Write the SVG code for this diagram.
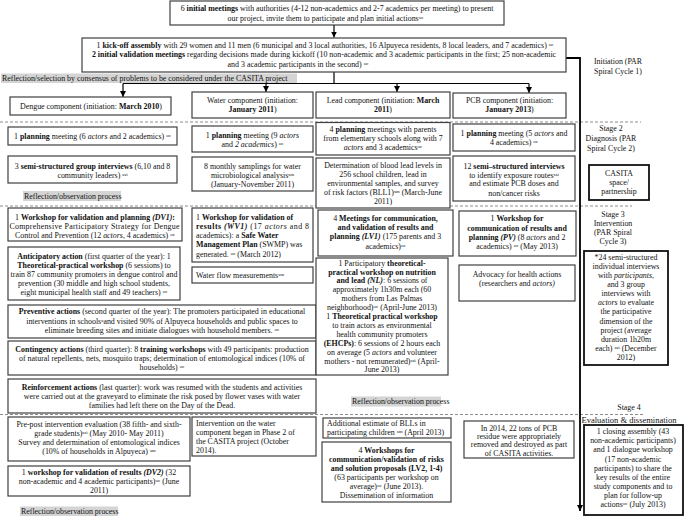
<svg xmlns="http://www.w3.org/2000/svg" width="685" height="516" viewBox="0 0 685 516">
<defs>
<marker id="ah" viewBox="0 0 10 10" refX="10" refY="5" markerWidth="6" markerHeight="6" orient="auto" markerUnits="userSpaceOnUse"><path d="M0,0 L10,5 L0,10 z" fill="#000"/></marker>
</defs>
<style>
text{font-family:"Liberation Serif","Times New Roman",serif;font-size:7.9px;fill:#111}
.m{text-anchor:middle}
.b{font-weight:bold}
.i{font-style:italic}
.s{font-size:5px;baseline-shift:super}
rect.bx{fill:#fff;stroke:#404040;stroke-width:1.2}
rect.tk{fill:#fff;stroke:#111;stroke-width:1.8}
rect.hl{fill:#d4d4d4}
.dl{stroke:#8c8c8c;stroke-width:1;stroke-dasharray:3 2;fill:none}
.cn{stroke:#000;stroke-width:1.2;fill:none}
.cv{stroke:#000;stroke-width:1.8;fill:none}
</style>
<rect width="685" height="516" fill="#fff"/>

<g id="stage-lines">
<line class="dl" x1="0" y1="122" x2="641" y2="122"/>
<line class="dl" x1="0" y1="206" x2="632" y2="206"/>
<line class="dl" x1="0" y1="414.5" x2="643" y2="414.5"/>
</g>

<g id="connectors">
<line class="cn" x1="334" y1="25" x2="334" y2="37.5" marker-end="url(#ah)"/>
<line class="cn" x1="334" y1="72" x2="334" y2="83.5"/>
<line class="cn" x1="123" y1="83.5" x2="529" y2="83.5"/>
<line class="cn" x1="123" y1="83.5" x2="123" y2="97" marker-end="url(#ah)"/>
<line class="cn" x1="266" y1="83.5" x2="266" y2="92" marker-end="url(#ah)"/>
<line class="cn" x1="397" y1="83.5" x2="397" y2="92" marker-end="url(#ah)"/>
<line class="cn" x1="529" y1="83.5" x2="529" y2="93" marker-end="url(#ah)"/>
<polyline class="cv" points="566,58 580,58 580,511" marker-end="url(#ah)"/>
</g>

<g id="n-initial">
<rect class="bx" x="170" y="1" width="334" height="24"/>
<text class="m" x="337" y="11">6 <tspan class="b">initial meetings</tspan> with authorities (4-12 non-academics and 2-7 academics per meeting) to present</text>
<text class="m" x="325.5" y="20.5">our project, invite them to participate and plan initial actions<tspan class="s">oc</tspan></text>
</g>

<g id="n-kickoff">
<rect class="bx" x="82" y="38" width="484" height="34"/>
<text class="m" x="325" y="47.5">1 <tspan class="b">kick-off assembly</tspan> with 29 women and 11 men (6 municipal and 3 local authorities, 16 Alpuyeca residents, 8 local leaders, and 7 academics) <tspan class="s">oc</tspan></text>
<text class="m" x="324" y="57"><tspan class="b">2 initial validation meetings</tspan> regarding decisions made during kickoff (10 non-academic and 3 academic participants in the first; 25 non-academic</text>
<text class="m" x="298" y="66.5">and 3 academic participants in the second) <tspan class="s">oc</tspan></text>
</g>

<g id="n-reflection-selection">
<rect class="hl" x="1" y="73.5" width="296" height="9.5"/>
<text x="2" y="81">Reflection/selection by consensus of problems to be considered under the CASITA project</text>
</g>

<g id="stage-labels">
<text class="m" x="618" y="64">Initiation (PAR</text>
<text class="m" x="618" y="74">Spiral Cycle 1)</text>
<text class="m" x="611" y="131">Stage 2</text>
<text class="m" x="611" y="141">Diagnosis (PAR</text>
<text class="m" x="611" y="150.5">Spiral Cycle 2)</text>
<text class="m" x="613" y="216.5">Stage 3</text>
<text class="m" x="613" y="225.5">Intervention</text>
<text class="m" x="613" y="234.5">(PAR Spiral</text>
<text class="m" x="613" y="243.5">Cycle 3)</text>
<text class="m" x="629" y="410">Stage 4</text>
<text class="m" x="629" y="422.5" style="font-size:8.5px">Evaluation &amp; dissemination</text>
</g>

<g id="n-casita">
<rect class="tk" x="589" y="165" width="60" height="35"/>
<text class="m" x="619" y="175.5">CASITA</text>
<text class="m" x="619" y="184.5">space/</text>
<text class="m" x="619" y="193.5">partnership</text>
</g>

<g id="n-dengue">
<rect class="bx" x="10" y="97" width="161" height="18"/>
<text class="m" x="91" y="108.5">Dengue component (initiation: <tspan class="b">March 2010</tspan>)</text>
</g>
<g id="n-water">
<rect class="bx" x="192" y="92" width="121" height="26"/>
<text class="m" x="252.5" y="102.5">Water component (initiation:</text>
<text class="m" x="252.5" y="111.5"><tspan class="b">January 2011</tspan>)</text>
</g>
<g id="n-lead">
<rect class="bx" x="316" y="92" width="134" height="26"/>
<text class="m" x="383" y="102.5">Lead component (initiation: <tspan class="b">March</tspan></text>
<text class="m" x="383" y="111.5"><tspan class="b">2011</tspan>)</text>
</g>
<g id="n-pcb">
<rect class="bx" x="453" y="93" width="113" height="25"/>
<text class="m" x="509.5" y="102.5">PCB component (initiation:</text>
<text class="m" x="509.5" y="111.5"><tspan class="b">January 2013</tspan>)</text>
</g>

<g id="n-d-plan">
<rect class="bx" x="8" y="127" width="169" height="18"/>
<text class="m" x="92.5" y="138.5">1 <tspan class="b">planning</tspan> meeting (6 <tspan class="i">actors</tspan> and 2 academics) <tspan class="s">oc</tspan></text>
</g>
<g id="n-d-interviews">
<rect class="bx" x="8" y="156" width="169" height="27"/>
<text class="m" x="92.5" y="168.5">3 <tspan class="b">semi-structured group interviews</tspan> (6,10 and 8</text>
<text class="m" x="92.5" y="177.5">community leaders) <tspan class="s">ssi</tspan></text>
</g>
<g id="n-d-refl1">
<rect class="hl" x="23" y="191" width="98" height="10"/>
<text x="24" y="198.8">Reflection/observation process</text>
</g>

<g id="n-w-plan">
<rect class="bx" x="192" y="126" width="121" height="26"/>
<text class="m" x="252.5" y="138">1 <tspan class="b">planning</tspan> meeting (9 <tspan class="i">actors</tspan></text>
<text class="m" x="252.5" y="147">and <tspan class="i">2 academics</tspan>) <tspan class="s">oc</tspan></text>
</g>
<g id="n-w-samplings">
<rect class="bx" x="192" y="157" width="121" height="34"/>
<text class="m" x="252.5" y="169">8 monthly samplings for water</text>
<text class="m" x="252.5" y="177.5">microbiological analysis<tspan class="s">sm</tspan></text>
<text class="m" x="252.5" y="187">(January-November 2011)</text>
</g>

<g id="n-l-plan">
<rect class="bx" x="316" y="122.5" width="134" height="32.5"/>
<text class="m" x="383" y="132">4 <tspan class="b">planning</tspan> meetings with parents</text>
<text class="m" x="383" y="140.5">from elementary schools along with 7</text>
<text class="m" x="383" y="149.5"><tspan class="i">actors</tspan> and 3 academics<tspan class="s">oc</tspan></text>
</g>
<g id="n-l-bll1">
<rect class="bx" x="316" y="158" width="134" height="50"/>
<text class="m" x="383" y="167.5">Determination of blood lead levels in</text>
<text class="m" x="383" y="176.5">256 school children, lead in</text>
<text class="m" x="383" y="185.5">environmental samples, and survey</text>
<text class="m" x="383" y="195">of risk factors (BLL1)<tspan class="s">sm</tspan> (March-June</text>
<text class="m" x="383" y="204">2011)</text>
</g>

<g id="n-p-plan">
<rect class="bx" x="453" y="124" width="122" height="27"/>
<text class="m" x="514" y="135.5">1 <tspan class="b">planning</tspan> meeting (5 <tspan class="i">actors</tspan> and</text>
<text class="m" x="514" y="144.5">4 academics) <tspan class="s">oc</tspan></text>
</g>
<g id="n-p-interviews">
<rect class="bx" x="453" y="156" width="122" height="45"/>
<text class="m" x="514" y="168.5">12 <tspan class="b">semi–structured interviews</tspan></text>
<text class="m" x="514" y="177.5">to identify exposure routes<tspan class="s">ssi</tspan></text>
<text class="m" x="514" y="186">and estimate PCB doses and</text>
<text class="m" x="514" y="195.5">non/cancer risks</text>
</g>

<g id="n-d-dv1">
<rect class="bx" x="8" y="208" width="174" height="33"/>
<text class="m" x="95" y="219.5">1 <tspan class="b">Workshop for validation and planning <tspan class="i">(DV1)</tspan>:</tspan></text>
<text class="m" x="94.5" y="229" textLength="170" lengthAdjust="spacing">Comprehensive Participatory Strategy for Dengue</text>
<text class="m" x="95" y="238">Control and Prevention (12 <tspan class="i">actors</tspan>, 4 academics) <tspan class="s">oc</tspan></text>
</g>
<g id="n-d-anticipatory">
<rect class="bx" x="8" y="247" width="172" height="53"/>
<text class="m" x="94" y="259"><tspan class="b">Anticipatory action</tspan> (first quarter of the year): 1</text>
<text class="m" x="94" y="268"><tspan class="b">Theoretical-practical workshop</tspan> (6 sessions) to</text>
<text class="m" x="94" y="277">train 87 community promoters in dengue control and</text>
<text class="m" x="94" y="286">prevention (30 middle and high school students,</text>
<text class="m" x="94" y="295">eight municipal health staff and 49 teachers) <tspan class="s">oc</tspan></text>
</g>
<g id="n-d-preventive">
<rect class="bx" x="8" y="305" width="308" height="33"/>
<text class="m" x="162" y="314"><tspan class="b">Preventive actions</tspan> (second quarter of the year): The promoters participated in educational</text>
<text class="m" x="162" y="323.5">interventions in schools<tspan class="s">a</tspan>and visited 90% of Alpuyeca households and public spaces to</text>
<text class="m" x="162" y="332.5">eliminate breeding sites and initiate dialogues with household members. <tspan class="s">oc</tspan></text>
</g>
<g id="n-d-contingency">
<rect class="bx" x="8" y="341" width="308" height="34"/>
<text class="m" x="162" y="351.5"><tspan class="b">Contingency actions</tspan> (third quarter): 8 <tspan class="b">training workshops</tspan> with 49 participants: production</text>
<text class="m" x="162" y="360.5">of natural repellents, nets, mosquito traps; determination of entomological indices (10% of</text>
<text class="m" x="162" y="369.5">households) <tspan class="s">oc</tspan></text>
</g>
<g id="n-d-reinforcement">
<rect class="bx" x="8" y="379" width="308" height="34"/>
<text class="m" x="162" y="389.5"><tspan class="b">Reinforcement actions</tspan> (last quarter): work was resumed with the students and activities</text>
<text class="m" x="162" y="398.5">were carried out at the graveyard to eliminate the risk posed by flower vases with water</text>
<text class="m" x="162" y="407.5">families had left there on the Day of the Dead.</text>
</g>

<g id="n-w-wv1">
<rect class="bx" x="192" y="208" width="121" height="54"/>
<text x="196" y="220">1 <tspan class="b">Workshop for validation of</tspan></text>
<text x="196" y="229" textLength="113" lengthAdjust="spacing"><tspan class="b">results <tspan class="i">(WV1)</tspan></tspan> (17 <tspan class="i">actors</tspan> and 8</text>
<text x="196" y="238">academics): a <tspan class="b">Safe Water</tspan></text>
<text x="196" y="247"><tspan class="b">Management Plan</tspan> (SWMP) was</text>
<text x="196" y="256.5">generated. <tspan class="s">oc</tspan> (March 2012)</text>
</g>
<g id="n-w-flow">
<rect class="bx" x="192" y="267" width="121" height="16"/>
<text x="196" y="277.5">Water flow measurements<tspan class="s">sm</tspan></text>
</g>

<g id="n-l-lv1">
<rect class="bx" x="318" y="210" width="135" height="46"/>
<text class="m" x="385.5" y="220.5">4 <tspan class="b">Meetings for communication,</tspan></text>
<text class="m" x="385.5" y="230"><tspan class="b">and validation of results and</tspan></text>
<text class="m" x="385.5" y="239"><tspan class="b">planning <tspan class="i">(LV1)</tspan></tspan> (175 parents and 3</text>
<text class="m" x="385.5" y="248.5">academics)<tspan class="s">oc</tspan></text>
</g>
<g id="n-l-nl">
<rect class="bx" x="316" y="258" width="132" height="117"/>
<text class="m" x="382" y="265.6">1 Participatory <tspan class="b">theoretical-</tspan></text>
<text class="m" x="382" y="274.5"><tspan class="b">practical workshop on nutrition</tspan></text>
<text class="m" x="382" y="283.4"><tspan class="b">and lead <tspan class="i">(NL)</tspan></tspan>: 6 sessions of</text>
<text class="m" x="382" y="292.3">approximately 1h30m each (60</text>
<text class="m" x="382" y="301.2">mothers from Las Palmas</text>
<text class="m" x="382" y="310.1">neighborhood)<tspan class="s">oc</tspan> (April-June 2013)</text>
<text class="m" x="382" y="319">1 <tspan class="b">Theoretical practical workshop</tspan></text>
<text class="m" x="382" y="327.9">to train actors as environmental</text>
<text class="m" x="382" y="336.8">health community promoters</text>
<text class="m" x="382" y="345.7"><tspan class="b">(EHCPs)</tspan>: 6 sessions of 2 hours each</text>
<text class="m" x="382" y="354.6">on average (5 <tspan class="i">actors</tspan> and volunteer</text>
<text class="m" x="382" y="363.5">mothers - not remunerated)<tspan class="s">ssi</tspan> (April-</text>
<text class="m" x="382" y="372.4">June 2013)</text>
</g>
<g id="n-l-refl">
<rect class="hl" x="351" y="396.5" width="90" height="10"/>
<text x="352" y="404">Reflection/observation process</text>
</g>

<g id="n-p-pv">
<rect class="bx" x="459" y="211" width="117" height="45"/>
<text class="m" x="517" y="220.5">1 <tspan class="b">Workshop for</tspan></text>
<text class="m" x="517" y="230.5"><tspan class="b">communication of results and</tspan></text>
<text class="m" x="517" y="239.5"><tspan class="b">planning <tspan class="i">(PV)</tspan></tspan> (8 <tspan class="i">actors</tspan> and 2</text>
<text class="m" x="517" y="248.5">academics) <tspan class="s">oc</tspan> (May 2013)</text>
</g>
<g id="n-p-advocacy">
<rect class="bx" x="459" y="265" width="116" height="36"/>
<text class="m" x="517" y="276.5">Advocacy for health actions</text>
<text class="m" x="517" y="286">(researchers and <tspan class="i">actors)</tspan></text>
</g>

<g id="n-participation-eval">
<rect class="tk" x="584" y="251" width="84" height="114"/>
<text class="m" x="626" y="259.8">*24 semi-structured</text>
<text class="m" x="626" y="268.9">individual interviews</text>
<text class="m" x="626" y="278">with <tspan class="i">participants</tspan>,</text>
<text class="m" x="626" y="287.1">and 3 group</text>
<text class="m" x="626" y="296.2">interviews with</text>
<text class="m" x="626" y="305.3"><tspan class="i">actors</tspan>  to evaluate</text>
<text class="m" x="626" y="314.4">the participative</text>
<text class="m" x="626" y="323.5">dimension of the</text>
<text class="m" x="626" y="332.6">project (average</text>
<text class="m" x="626" y="341.7">duration 1h20m</text>
<text class="m" x="626" y="350.8">each) <tspan class="s">ssi</tspan> (December</text>
<text class="m" x="626" y="359.9">2012)</text>
</g>

<g id="n-d-prepost">
<rect class="bx" x="8" y="417" width="182" height="44"/>
<text class="m" x="99" y="426.5">Pre-post intervention evaluation (38 fifth- and sixth-</text>
<text class="m" x="99" y="435.5">grade students)<tspan class="s">ssi</tspan> (May 2010- May 2011)</text>
<text class="m" x="99" y="445">Survey and determination of entomological indices</text>
<text class="m" x="99" y="454">(10% of households in Alpuyeca) <tspan class="s">sm</tspan></text>
</g>
<g id="n-d-dv2">
<rect class="bx" x="8" y="466" width="182" height="30"/>
<text class="m" x="99" y="474.5">1 <tspan class="b">workshop for validation of results <tspan class="i">(DV2)</tspan></tspan> (32</text>
<text class="m" x="99" y="484">non-academic and 4 academic participants)<tspan class="s">oc</tspan> (June</text>
<text class="m" x="99" y="493">2011)</text>
</g>
<g id="n-d-refl2">
<rect class="hl" x="20" y="506.5" width="98" height="9.5"/>
<text x="21" y="514">Reflection/observation process</text>
</g>

<g id="n-w-phase2">
<rect class="bx" x="192" y="417" width="124" height="39"/>
<text x="196" y="425.5">Intervention on the water</text>
<text x="196" y="434.5">component began in Phase 2 of</text>
<text x="196" y="443.5">the CASITA project (October</text>
<text x="196" y="453">2014).</text>
</g>

<g id="n-l-bll2">
<rect class="bx" x="323" y="418" width="128" height="20"/>
<text x="327" y="425.5">Additional estimate of BLLs in</text>
<text x="327" y="434.5">participating children <tspan class="s">sm</tspan> (April 2013)</text>
</g>
<g id="n-l-lv2">
<rect class="bx" x="322" y="442" width="129" height="60"/>
<text class="m" x="386.5" y="452.6">4 <tspan class="b">Workshops for</tspan></text>
<text class="m" x="386.5" y="461.6"><tspan class="b">communication/validation of risks</tspan></text>
<text class="m" x="386.5" y="470.6"><tspan class="b">and solution proposals (LV2, 1-4)</tspan></text>
<text class="m" x="386.5" y="479.6">(63 participants per workshop on</text>
<text class="m" x="386.5" y="488.6">average)<tspan class="s">oc</tspan> (June 2013).</text>
<text class="m" x="386.5" y="497.6">Dissemination of information</text>
</g>

<g id="n-p-removal">
<rect class="bx" x="464" y="421" width="110" height="37"/>
<text class="m" x="519" y="430.5">In 2014, 22 tons of PCB</text>
<text class="m" x="519" y="439">residue were appropriately</text>
<text class="m" x="519" y="447.3">removed and destroyed as part</text>
<text class="m" x="519" y="455.6">of CASITA activities.</text>
</g>

<g id="n-closing">
<rect class="tk" x="584" y="425" width="99" height="90"/>
<text class="m" x="633" y="434">1 closing assembly (43</text>
<text class="m" x="633" y="443">non-academic participants)</text>
<text class="m" x="633" y="452.3">and 1 dialogue workshop</text>
<text class="m" x="633" y="461.6">(17 non-academic</text>
<text class="m" x="633" y="470.6">participants) to share the</text>
<text class="m" x="633" y="479.9">key results of the entire</text>
<text class="m" x="633" y="488.9">study components and to</text>
<text class="m" x="633" y="497.9">plan for follow-up</text>
<text class="m" x="633" y="507.3">actions<tspan class="s">oc</tspan>  (July 2013)</text>
</g>
</svg>
